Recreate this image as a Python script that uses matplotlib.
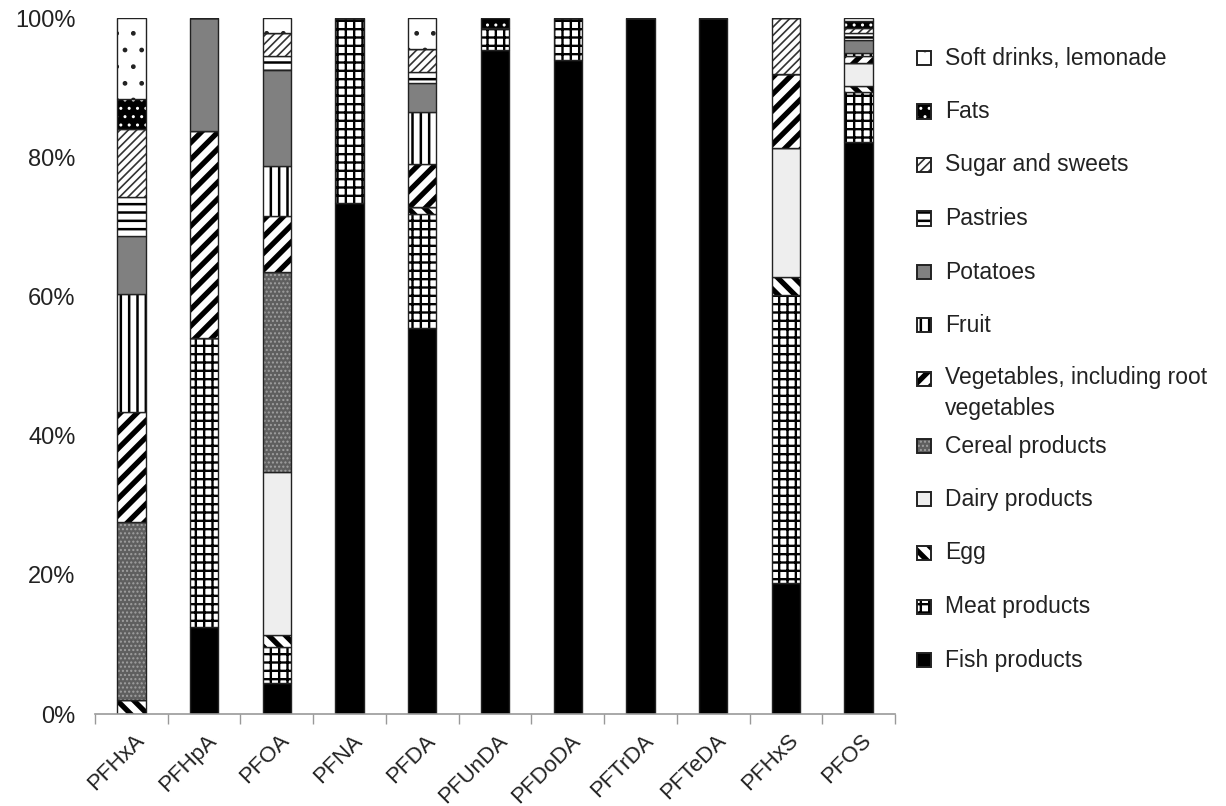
import numpy as np
import matplotlib.pyplot as plt
from matplotlib.patches import Rectangle
from matplotlib.ticker import FuncFormatter, FixedLocator
from matplotlib.transforms import ScaledTranslation

plt.rcParams['font.family'] = ['Liberation Sans', 'DejaVu Sans']

compounds = ['PFHxA', 'PFHpA', 'PFOA', 'PFNA', 'PFDA', 'PFUnDA',
             'PFDoDA', 'PFTrDA', 'PFTeDA', 'PFHxS', 'PFOS']

# share of intake (%) per food group, stacked bottom to top
fish     = [0.0, 12.5, 4.4, 73.4, 55.4, 95.4, 94.0, 100.0, 100.0, 18.8, 82.2]
meat     = [0.0, 41.5, 5.3, 26.6, 16.5, 3.2, 6.0, 0.0, 0.0, 41.4, 7.2]
egg      = [2.0, 0.0, 1.6, 0.0, 1.0, 0.0, 0.0, 0.0, 0.0, 2.6, 0.8]
dairy    = [0.0, 0.0, 23.5, 0.0, 0.0, 0.0, 0.0, 0.0, 0.0, 18.6, 3.3]
cereal   = [25.6, 0.0, 28.7, 0.0, 0.0, 0.0, 0.0, 0.0, 0.0, 0.0, 0.0]
veg      = [15.8, 29.7, 8.0, 0.0, 6.1, 0.0, 0.0, 0.0, 0.0, 10.6, 1.0]
fruit    = [17.0, 0.0, 7.2, 0.0, 7.5, 0.0, 0.0, 0.0, 0.0, 0.0, 0.5]
potatoes = [8.3, 16.3, 13.9, 0.0, 4.1, 0.0, 0.0, 0.0, 0.0, 0.0, 1.8]
pastries = [5.6, 0.0, 1.9, 0.0, 1.7, 0.0, 0.0, 0.0, 0.0, 0.0, 1.0]
sugar    = [9.8, 0.0, 3.3, 0.0, 3.2, 0.0, 0.0, 0.0, 0.0, 8.0, 0.8]
fats     = [4.2, 0.0, 0.0, 0.0, 0.0, 1.4, 0.0, 0.0, 0.0, 0.0, 1.0]
soft     = [11.7, 0.0, 2.2, 0.0, 4.5, 0.0, 0.0, 0.0, 0.0, 0.0, 0.4]

groups = ['Fish products', 'Meat products', 'Egg', 'Dairy products',
          'Cereal products', 'Vegetables, including root\nvegetables', 'Fruit',
          'Potatoes', 'Pastries', 'Sugar and sweets', 'Fats',
          'Soft drinks, lemonade']
series = [fish, meat, egg, dairy, cereal, veg, fruit, potatoes, pastries,
          sugar, fats, soft]

# (face colour, hatch, hatch colour, hatch linewidth)
styles = [
    ('black', None, 'black', 1.0),
    ('white', '++', 'black', 1.7),
    ('white', '\\\\', 'black', 3.8),
    ('#eeeeee', None, 'black', 1.0),
    ('#5f5f5f', '....', '#a0a0a0', 1.0),
    ('white', '//', 'black', 3.8),
    ('white', '||', 'black', 1.8),
    ('#808080', None, 'black', 1.0),
    ('white', '--', 'black', 1.8),
    ('white', '////', '#333333', 1.2),
    ('black', '..', 'white', 1.0),
    ('white', '.', '#222222', 1.0),
]


def styled(patch, face, hatch, hcolor, hlw):
    patch.set_facecolor(face)
    patch.set_edgecolor(hcolor)
    patch.set_linewidth(0)
    if hatch:
        patch.set_hatch(hatch)
        try:
            patch.set_hatch_linewidth(hlw)
        except AttributeError:
            pass


fig = plt.figure(figsize=(12.26, 8.06), dpi=100)
ax = fig.add_axes([0.0775, 0.1141, 0.6525, 0.8635])

x = np.arange(len(compounds))
w = 0.39
bottom = np.zeros(len(compounds))
for vals, (face, hatch, hcolor, hlw) in zip(series, styles):
    vals = np.array(vals)
    plt.rcParams['hatch.linewidth'] = hlw
    bars = ax.bar(x, vals, w, bottom=bottom)
    for b in bars:
        styled(b, face, hatch, hcolor, hlw)
    # outline on top of the hatched fill
    ax.bar(x, vals, w, bottom=bottom, fill=False, edgecolor='#222222',
           linewidth=1.0)
    bottom += vals

ax.set_xlim(-0.5, len(compounds) - 0.5)
ax.set_ylim(0, 100)
ax.set_yticks(np.arange(0, 101, 20))
ax.yaxis.set_major_formatter(FuncFormatter(lambda v, p: '%d%%' % v))
ax.tick_params(axis='y', length=0, pad=14, labelsize=17, colors='#222222')

ax.set_xticks(x)
ax.set_xticklabels(compounds, rotation=45, ha='right', va='center',
                   rotation_mode='anchor', fontsize=16, color='#222222')
ax.tick_params(axis='x', which='major', length=0, pad=17)
shift = ScaledTranslation(7 / 72, 0, fig.dpi_scale_trans)
for lab in ax.get_xticklabels():
    lab.set_transform(lab.get_transform() + shift)
ax.xaxis.set_minor_locator(FixedLocator(np.arange(-0.5, len(compounds), 1.0)))
ax.tick_params(axis='x', which='minor', length=7, width=1, color='#999999')

for s in ['top', 'right', 'left']:
    ax.spines[s].set_visible(False)
ax.spines['bottom'].set_color('#999999')
ax.spines['bottom'].set_linewidth(1.2)

# legend, top entry first
W, H = 1226.0, 806.0
y_px = 58.0
for name, (face, hatch, hcolor, hlw) in zip(groups[::-1], styles[::-1]):
    plt.rcParams['hatch.linewidth'] = hlw
    sq = Rectangle((917 / W, 1 - (y_px + 7) / H), 14 / W, 14 / H,
                   transform=fig.transFigure)
    styled(sq, face, hatch, hcolor, hlw)
    fig.add_artist(sq)
    fig.add_artist(Rectangle((917 / W, 1 - (y_px + 7) / H), 14 / W, 14 / H,
                             transform=fig.transFigure, fill=False,
                             edgecolor='#222222', linewidth=1.4))
    if '\n' in name:
        fig.text(945 / W, 1 - (y_px - 13) / H, name, fontsize=16.5,
                 va='top', ha='left', color='#222222', linespacing=1.45)
        y_px += 67
    else:
        fig.text(945 / W, 1 - y_px / H, name, fontsize=16.5,
                 va='center', ha='left', color='#222222')
        y_px += 53.5

fig.savefig('out.png', dpi=100)
